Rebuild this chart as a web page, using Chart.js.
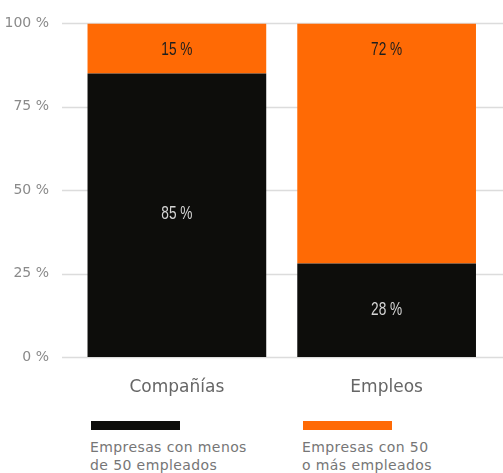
<!DOCTYPE html>
<html>
<head>
<meta charset="utf-8">
<script src="https://cdn.jsdelivr.net/npm/chart.js@4.4.1/dist/chart.umd.min.js"></script>
<style>
  html, body { margin: 0; padding: 0; background: #fff; }
  #wrap { position: relative; width: 503px; height: 473px; }
  #box { position: absolute; left: 0; top: 0; width: 503px; height: 400px; }
  .key { position: absolute; top: 421px; width: 200px; font-family: 'DejaVu Sans', sans-serif;
         font-size: 14px; line-height: 18px; color: #767676; letter-spacing: 0.4px; }
  .key span { display: block; width: 89px; height: 9px; margin: 0 0 8px 1px; }
</style>
</head>
<body>
<div id="wrap">
  <div id="box"><canvas id="myChart"></canvas></div>
  <div class="key" style="left:90px"><span style="background:#0d0d0b"></span>Empresas con menos<br>de 50 empleados</div>
  <div class="key" style="left:302px"><span style="background:#ff6a05"></span>Empresas con 50<br>o más empleados</div>
</div>
<script>
  var categories = ['Compañías', 'Empleos'];
  var menos50 = [85, 28];
  var mas50 = [15, 72];
  var yTicks = [0, 25, 50, 75, 100];

  // gridlines run from the tick labels to the right edge
  var gridPlugin = {
    id: 'grid',
    beforeDatasetsDraw: function (chart) {
      var ctx = chart.ctx, y = chart.scales.y;
      ctx.save();
      ctx.strokeStyle = '#dcdcdc';
      ctx.lineWidth = 1.5;
      yTicks.forEach(function (v) {
        var py = Math.round(y.getPixelForValue(v)) + 0.5;
        ctx.beginPath();
        ctx.moveTo(62, py);
        ctx.lineTo(chart.width, py);
        ctx.stroke();
      });
      ctx.restore();
    }
  };

  // narrow value labels (squeezed horizontally)
  var labelPlugin = {
    id: 'barLabels',
    afterDatasetsDraw: function (chart) {
      var ctx = chart.ctx, sx = 0.72;
      chart.data.datasets.forEach(function (ds, i) {
        chart.getDatasetMeta(i).data.forEach(function (bar, j) {
          var top = Math.min(bar.y, bar.base), bottom = Math.max(bar.y, bar.base);
          var py = ds.anchor === 'top' ? top + 26.5 : (top + bottom) / 2 - 1;
          ctx.save();
          ctx.font = '19px "Liberation Sans", sans-serif';
          ctx.textAlign = 'center';
          ctx.textBaseline = 'middle';
          ctx.fillStyle = ds.labelColor;
          ctx.translate(bar.x, py);
          ctx.scale(sx, 1);
          ctx.fillText(ds.data[j] + ' %', 0, 0);
          ctx.restore();
        });
      });
    }
  };

  new Chart(document.getElementById('myChart'), {
    type: 'bar',
    data: {
      labels: categories,
      datasets: [
        { label: 'Empresas con menos de 50 empleados', data: menos50, backgroundColor: '#0d0d0b',
          labelColor: '#d4d4d4', anchor: 'center', barPercentage: 0.852, categoryPercentage: 1 },
        { label: 'Empresas con 50 o más empleados', data: mas50, backgroundColor: '#ff6a05',
          labelColor: '#1e1e1e', anchor: 'top', barPercentage: 0.852, categoryPercentage: 1 }
      ]
    },
    options: {
      responsive: true,
      maintainAspectRatio: false,
      animation: false,
      layout: { padding: { top: 0.6, right: 11.5, left: 0, bottom: 0 } },
      plugins: { legend: { display: false }, tooltip: { enabled: false } },
      scales: {
        x: {
          stacked: true,
          grid: { display: false },
          border: { display: false },
          ticks: { color: '#666', padding: 12, font: { family: "'DejaVu Sans', sans-serif", size: 17 } },
          afterFit: function (s) { s.height = 43; }
        },
        y: {
          stacked: true,
          min: 0, max: 100,
          grid: { display: false },
          border: { display: false },
          afterFit: function (s) { s.width = 72; },
          ticks: {
            stepSize: 25,
            padding: 15,
            color: '#8a8a8a',
            font: { family: "'DejaVu Sans', sans-serif", size: 14 },
            callback: function (v) { return v + ' %'; }
          }
        }
      }
    },
    plugins: [gridPlugin, labelPlugin]
  });
</script>
</body>
</html>
